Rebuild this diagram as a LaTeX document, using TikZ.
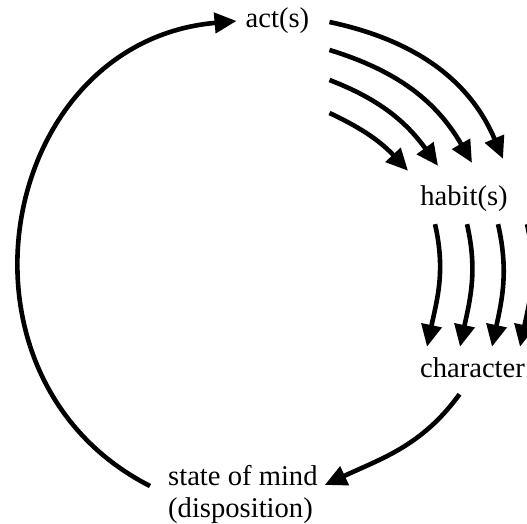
\documentclass[tikz,border=0pt]{standalone}
\usepackage{fontspec}
\setmainfont{Liberation Serif}
\usetikzlibrary{arrows.meta}

\begin{document}
\begin{tikzpicture}[
      x=1pt, y=1pt,
      lbl/.style={font=\fontsize{28.6}{32}\selectfont, inner sep=0pt},
      arr/.style={line width=4.6pt, -{Triangle[length=22pt,width=20pt]}},
    ]
    \useasboundingbox (0,0) rectangle (527,523);
    %% Labels round the cycle.
    \node[lbl] (act) at (277.5,502) {act(s)};
    \node[lbl] (habit) at (464,324) {habit(s)};
    \node[lbl] (character) at (472.5,155) {character};
    \node[lbl, anchor=west, align=left] (state) at (168,29)
      {state of mind\\(disposition)};
    %% Long way back from the state of mind to act(s).
    \draw[arr] ([shift={(-18,8)}]state.west)
      to[out=153, in=185, distance=240pt] ([xshift=-9pt]act.west);
    %% Acts pile up into habits.
    \foreach \sy/\ex/\ey/\o/\n in {%
        -1/39/27/-12/113, -29/8/23/-17/120,
        -59/-26/20/-21/126, -92/-56/15/-25/133}
      \draw[arr] ([shift={(20,\sy)}]act.east)
        to[out=\o, in=\n] ([shift={(\ex,\ey)}]habit.north);
    %% Habits pile up into character.
    \foreach \sx/\ex in {-29/-45.5, 3/-12.5, 34/19.5, 63/47.5}
      \draw[arr] ([shift={(\sx,-12)}]habit.south)
        to[out=-77, in=78] ([shift={(\ex,11)}]character.north);
    %% Character shapes the state of mind.
    \draw[arr] ([shift={(-13,-16)}]character.south)
      to[out=234, in=25] ([shift={(7,9)}]state.east);
  \end{tikzpicture}
\end{document}
